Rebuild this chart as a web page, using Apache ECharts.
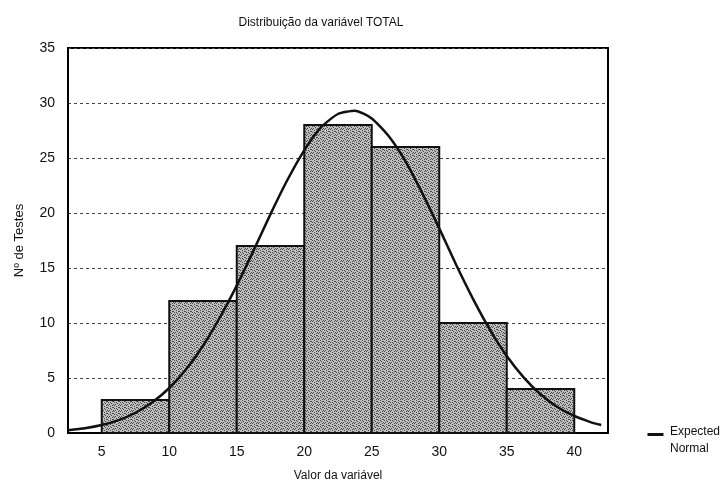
<!DOCTYPE html>
<html>
<head>
<meta charset="utf-8">
<script src="https://cdn.jsdelivr.net/npm/echarts@6/dist/echarts.min.js"></script>
<style>
  html, body { margin: 0; padding: 0; background: #fff; }
  #chart { width: 727px; height: 487px; }
</style>
</head>
<body>
<div id="chart"></div>
<script>
// histogram bins (lower edge, upper edge) and counts
const binStart = [5, 10, 15, 20, 25, 30, 35];
const binEnd = [10, 15, 20, 25, 30, 35, 40];
const counts = [3, 12, 17, 28, 26, 10, 4];

// expected normal curve
const curveX = [2.5, 3.75, 5, 6.25, 7.5, 8.75, 10, 11.25, 12.5, 13.75, 15, 16.25, 17.5, 18.75, 20, 21.25,
  22.5, 23.75, 25, 26.25, 27.5, 28.75, 30, 31.25, 32.5, 33.75, 35, 36.25, 37.5, 38.75, 40, 41.25, 42];
const curveY = [0.25, 0.43, 0.72, 1.17, 1.84, 2.79, 4.09, 5.79, 7.93, 10.5, 13.4, 16.6, 19.9, 23.0, 25.7, 27.8,
  29.0, 29.3, 28.6, 27.0, 24.7, 21.8, 18.6, 15.3, 12.2, 9.4, 7.0, 5.06, 3.52, 2.37, 1.55, 0.97, 0.72];

const xTicks = [5, 10, 15, 20, 25, 30, 35, 40];

// stippled grey fill like the scanned bars
function makePattern() {
  const c = document.createElement('canvas');
  c.width = 6; c.height = 6;
  const ctx = c.getContext('2d');
  ctx.fillStyle = '#bdbdbd';
  ctx.fillRect(0, 0, 6, 6);
  ctx.fillStyle = '#4a4a4a';
  const dots = [[0,0],[3,1],[1,2],[4,3],[2,4],[5,5],[0,3],[5,2],[2,0],[4,5]];
  dots.forEach(d => ctx.fillRect(d[0], d[1], 1, 1));
  return { image: c, repeat: 'repeat' };
}

const chart = echarts.init(document.getElementById('chart'));

const font = 'Liberation Sans';

const option = {
  animation: false,
  backgroundColor: '#fff',
  title: {
    text: 'Distribuição da variável TOTAL',
    left: 316,
    textAlign: 'center',
    top: 12,
    textStyle: { fontFamily: font, fontSize: 12, fontWeight: 'normal', color: '#111' }
  },
  grid: {
    left: 68, right: 119, top: 48, bottom: 54,
    show: true, borderColor: '#000', borderWidth: 2
  },
  xAxis: {
    type: 'value',
    min: 2.5,
    max: 42.5,
    name: 'Valor da variável',
    nameLocation: 'middle',
    nameGap: 37,
    nameTextStyle: { fontFamily: font, fontSize: 12, color: '#111' },
    axisLine: { lineStyle: { color: '#000', width: 2 } },
    axisTick: { show: false },
    splitLine: { show: false },
    axisLabel: {
      customValues: xTicks,
      margin: 12,
      fontFamily: font, fontSize: 14, color: '#111'
    }
  },
  yAxis: {
    type: 'value',
    min: 0,
    max: 35,
    interval: 5,
    name: 'Nº de Testes',
    nameLocation: 'middle',
    nameGap: 42,
    nameTextStyle: { fontFamily: font, fontSize: 13, color: '#111' },
    axisLine: { show: true, lineStyle: { color: '#000', width: 2 } },
    axisTick: { show: false },
    axisLabel: { margin: 13, fontFamily: font, fontSize: 14, color: '#111' },
    splitLine: { lineStyle: { color: '#444', type: [3, 3], width: 1 } }
  },
  graphic: [
    { type: 'line', left: 645, top: 432, shape: { x1: 0, y1: 0, x2: 16, y2: 0 }, style: { stroke: '#111', lineWidth: 3 } },
    { type: 'text', left: 670, top: 426, style: { text: 'Expected', font: '12px ' + font, fill: '#111' } },
    { type: 'text', left: 670, top: 443, style: { text: 'Normal', font: '12px ' + font, fill: '#111' } }
  ],
  series: [
    {
      name: 'Histogram',
      type: 'custom',
      data: binStart.map((s, i) => [s, binEnd[i], counts[i]]),
      encode: { x: [0, 1], y: 2 },
      renderItem: function (params, api) {
        const p0 = api.coord([api.value(0), api.value(2)]);
        const p1 = api.coord([api.value(1), 0]);
        return {
          type: 'rect',
          shape: { x: p0[0], y: p0[1], width: p1[0] - p0[0], height: p1[1] - p0[1] },
          style: { fill: makePattern(), stroke: '#111', lineWidth: 2 }
        };
      },
      z: 2
    },
    {
      name: 'Expected Normal',
      type: 'line',
      smooth: 0.2,
      symbol: 'none',
      data: curveX.map((x, i) => [x, curveY[i]]),
      lineStyle: { color: '#111', width: 2.5 },
      itemStyle: { color: '#111' },
      z: 3
    }
  ]
};

chart.setOption(option);
</script>
</body>
</html>
